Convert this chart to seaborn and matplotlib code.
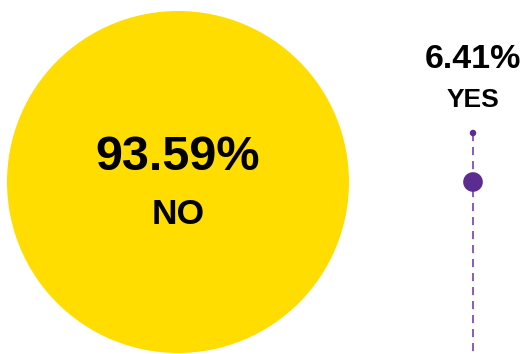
import matplotlib
matplotlib.use("Agg")
import matplotlib.pyplot as plt
from matplotlib.patches import Circle
import seaborn as sns
import pandas as pd

# Survey answer shares
categories = ["NO", "YES"]
shares = [93.59, 6.41]

sns.set_theme(style="white")
plt.rcParams["font.family"] = ["Liberation Sans", "DejaVu Sans"]

df = pd.DataFrame({"answer": categories, "share": shares})

W, H = 528, 354
fig = plt.figure(figsize=(W / 100, H / 100), dpi=100)
ax = fig.add_axes([0, 0, 1, 1])

yellow = "#FFDD00"
purple = "#5C2D91"
light_purple = "#8A5CBE"

# Minority answer: small dot on a dashed leader line
yes_row = df[df.answer == "YES"].iloc[0]
lx = 473
ax.plot([lx, lx], [133, H + 5], ls=(0, (4.2, 3.0)), lw=1.4,
        color=light_purple, zorder=2)
pts = pd.DataFrame({"x": [lx, lx], "y": [133, 182], "kind": ["tip", "dot"]})
sns.scatterplot(data=pts, x="x", y="y", size="kind",
                sizes={"tip": 22, "dot": 200}, color=purple,
                edgecolor="none", legend=False, ax=ax, zorder=4)

ax.set_xlim(0, W)
ax.set_ylim(H, 0)
ax.set_aspect("equal")
ax.axis("off")

ax.text(lx, 59, f"{yes_row.share:.2f}%", ha="center", va="center",
        fontsize=24.5, fontweight="bold", color="black", zorder=3)
ax.text(lx, 100, yes_row.answer, ha="center", va="center",
        fontsize=19, fontweight="bold", color="black", zorder=3)

# Majority answer: large bubble with its label inside
no_row = df[df.answer == "NO"].iloc[0]
cx, cy, r = 178, 182, 171
ax.add_patch(Circle((cx, cy), r, color=yellow, lw=0, zorder=1))
ax.text(cx, 158, f"{no_row.share:.2f}%", ha="center", va="center",
        fontsize=35, fontweight="bold", color="black", zorder=3)
ax.text(cx, 214, no_row.answer, ha="center", va="center",
        fontsize=25.5, fontweight="bold", color="black", zorder=3)

fig.savefig("out.png", dpi=100)
